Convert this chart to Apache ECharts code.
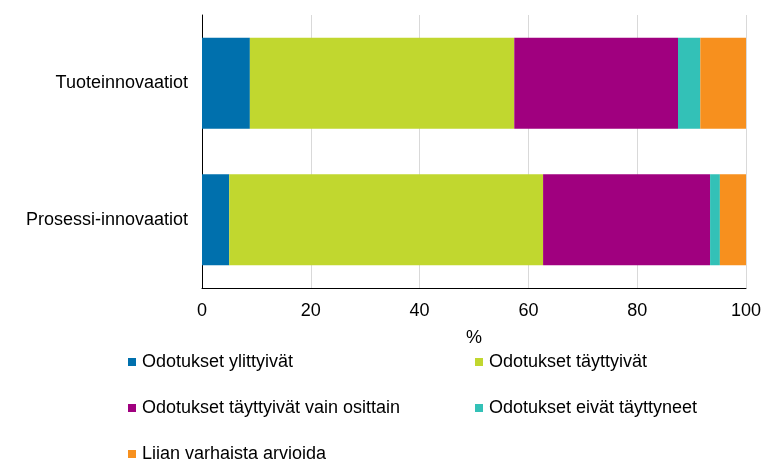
<!DOCTYPE html>
<html>
<head>
<meta charset="utf-8">
<script src="https://cdn.jsdelivr.net/npm/echarts@6/dist/echarts.min.js"></script>
<style>
	html, body { margin: 0; padding: 0; background: #fff; }
	#chart { width: 762px; height: 461px; }
</style>
</head>
<body>
<div id="chart"></div>
<script>
	// kategoriat (alhaalta ylös ECharts-järjestyksessä)
	var categories = ['Prosessi-innovaatiot', 'Tuoteinnovaatiot'];
	var seriesNames = [
		'Odotukset ylittyivät',
		'Odotukset täyttyivät',
		'Odotukset täyttyivät vain osittain',
		'Odotukset eivät täyttyneet',
		'Liian varhaista arvioida'
	];
	var ylittyivat = [5.0, 8.8];
	var tayttyivat = [57.7, 48.6];
	var osittain = [30.7, 30.1];
	var eivat = [1.8, 4.1];
	var varhaista = [4.8, 8.4];
	var xTicks = [0, 20, 40, 60, 80, 100];

	var colors = ['#0070ad', '#c1d72f', '#a0007f', '#33c1b7', '#f7901e'];
	var values = [ylittyivat, tayttyivat, osittain, eivat, varhaista];

	var font = 'Liberation Sans, Arial, sans-serif';
	var chart = echarts.init(document.getElementById('chart'), null, { renderer: 'canvas' });

	var series = seriesNames.map(function (name, i) {
		return {
			name: name,
			type: 'bar',
			stack: 'kaikki',
			barWidth: 91,
			data: values[i],
			itemStyle: { color: colors[i] },
			emphasis: { disabled: true }
		};
	});

	// selitteen paikat: [vasen, ylä] jokaiselle sarjalle
	var legendPos = [[123, 348], [470, 348], [123, 394], [470, 394], [123, 440]];
	var legends = seriesNames.map(function (name, i) {
		return {
			left: legendPos[i][0],
			top: legendPos[i][1],
			data: [name],
			icon: 'rect',
			itemWidth: 8,
			itemHeight: 8,
			selectedMode: false,
			textStyle: { fontFamily: font, fontSize: 18, color: '#000', padding: [0, 0, 0, 1] }
		};
	});

	chart.setOption({
		animation: false,
		color: colors,
		grid: { left: 202, right: 16, top: 15, bottom: 173, containLabel: false, outerBoundsMode: 'none' },
		legend: legends,
		xAxis: {
			type: 'value',
			min: xTicks[0],
			max: xTicks[xTicks.length - 1],
			interval: 20,
			name: '%',
			nameLocation: 'middle',
			nameGap: 41,
			nameTextStyle: { fontFamily: font, fontSize: 18, color: '#000' },
			axisLine: { show: true, lineStyle: { color: '#000', width: 1 } },
			axisTick: { show: false },
			axisLabel: { fontFamily: font, fontSize: 18, color: '#000', margin: 14 },
			splitLine: { show: true, lineStyle: { color: '#d9d9d9', width: 1 } }
		},
		yAxis: {
			type: 'category',
			data: categories,
			axisLine: { show: true, lineStyle: { color: '#000', width: 1 } },
			axisTick: { show: false },
			axisLabel: { fontFamily: font, fontSize: 18, color: '#000', margin: 14 }
		},
		series: series
	});
</script>
</body>
</html>
